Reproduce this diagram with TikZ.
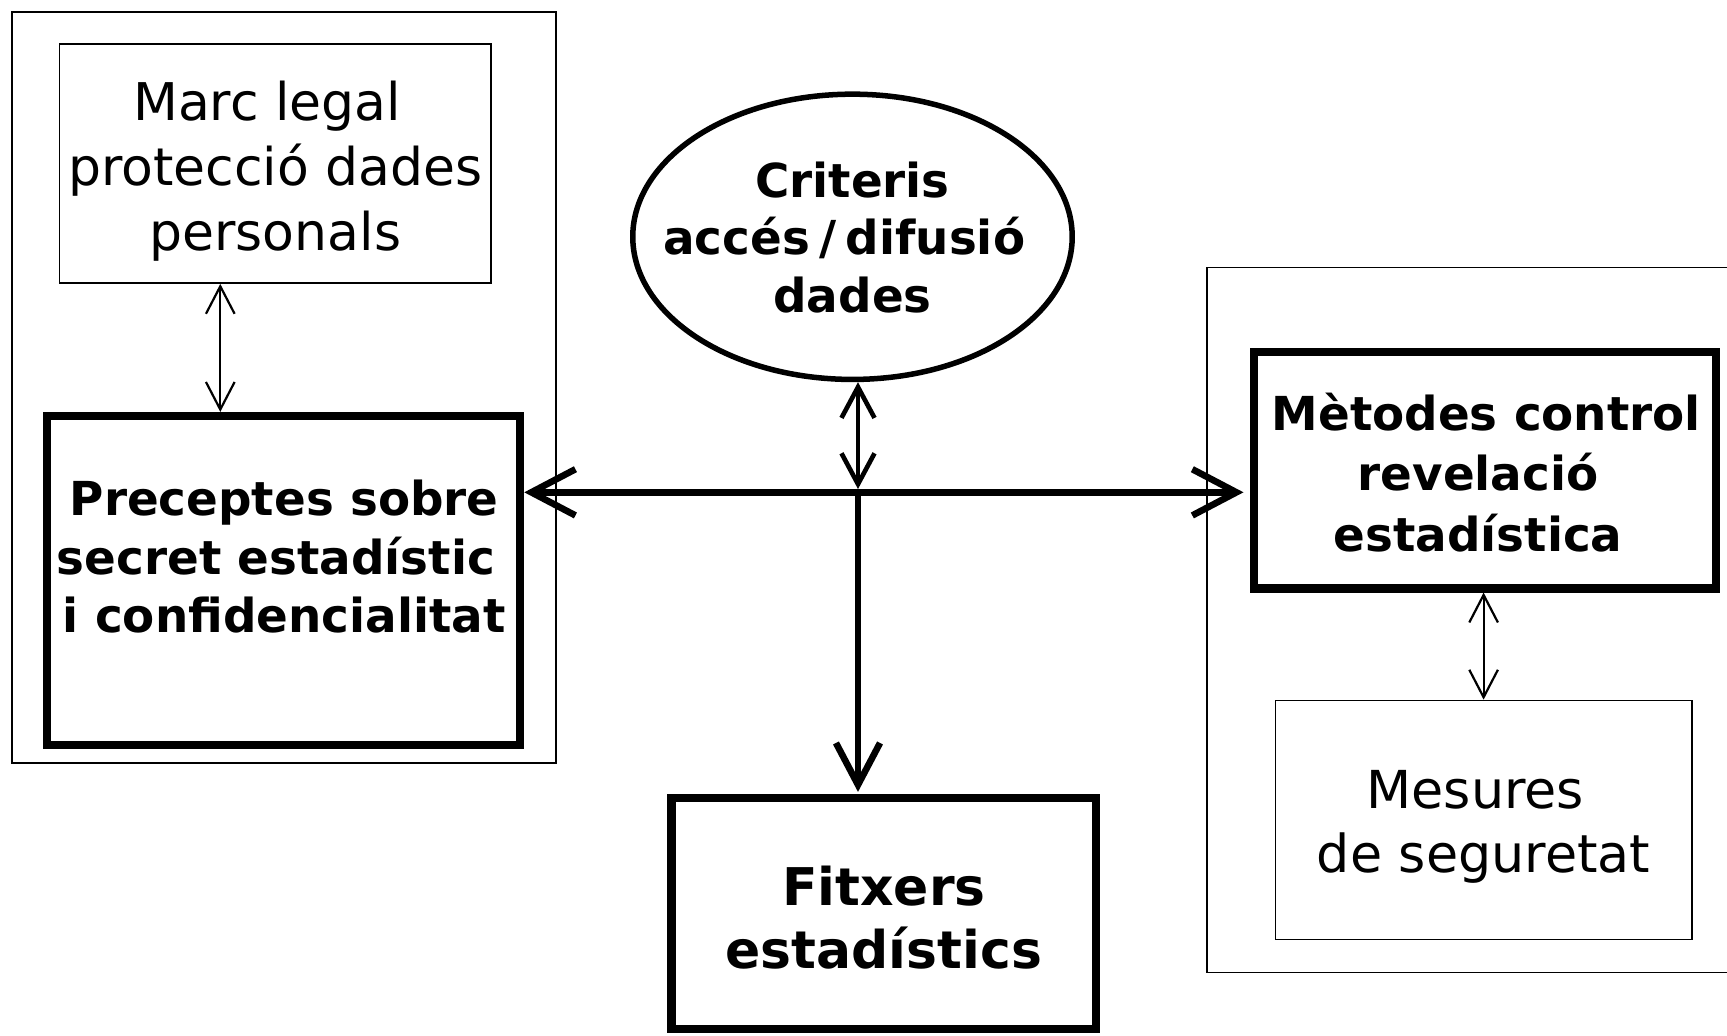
\documentclass[tikz,border=0pt]{standalone}
\usepackage{fontspec}
\setmainfont{DejaVu Sans}
\usetikzlibrary{arrows.meta,shapes.geometric,calc}
\begin{document}
\begin{tikzpicture}[x=0.5pt,y=-0.5pt,
  thinbox/.style={draw,line width=0.75pt,rectangle,inner sep=0pt},
  thickbox/.style={draw,line width=3.75pt,rectangle,inner sep=0pt},
  regtext/.style={align=center,inner sep=0pt,font=\fontsize{23.6pt}{29.5pt}\selectfont},
  boldtext/.style={align=center,inner sep=0pt,font=\fontsize{21.25pt}{26.5pt}\selectfont\bfseries},
  thinarrow/.style={line width=1pt,{Straight Barb[length=12.5pt,width=13pt]}-{Straight Barb[length=12.5pt,width=13pt]}},
  midarrow/.style={line width=2.1pt,{Straight Barb[length=14pt,width=15pt]}-{Straight Barb[length=14pt,width=15pt]}},
  bigline/.style={line width=3pt}
]
\useasboundingbox (0,0) rectangle (1568,940);
\fill[white] (0,0) rectangle (1568,940);
\clip (0,0) rectangle (1568,940);

% outer group boxes
\node[thinbox,minimum width=247pt,minimum height=341pt] (leftgrp) at (258,352) {};
\node[thinbox,minimum width=252pt,minimum height=320pt] (rightgrp) at (1348,563) {};

% boxes
\node[thinbox,minimum width=196pt,minimum height=108.5pt] (marc) at (250,148.5) {};
\node[regtext] (marct) at (250,155.5) {Marc legal\kern.32em\\protecció dades\\personals};

\node[thickbox,minimum width=214.75pt,minimum height=149.25pt] (prec) at (257.5,527) {};
\node[boldtext] (prect) at (258,505.5) {Preceptes sobre\\secret estadístic\kern.35em\\i confidencialitat};

\node[draw,ellipse,line width=2.5pt,minimum width=199.5pt,minimum height=129.5pt,inner sep=0pt] (crit) at (774,215) {};
\node[boldtext,font=\fontsize{21.25pt}{26pt}\selectfont\bfseries] (critt) at (774,215.5) {Criteris\\accés\kern.2em/\kern.2em difusió\kern.35em\\dades};

\node[thickbox,minimum width=209.75pt,minimum height=107.25pt] (met) at (1348.5,427) {};
\node[boldtext,font=\fontsize{21.25pt}{27.5pt}\selectfont\bfseries] (mett) at (1349.5,429) {Mètodes control\\revelació\kern.35em\\estadística\kern.35em};

\node[thinbox,minimum width=189pt,minimum height=108.5pt] (mes) at (1347,744.5) {};
\node[regtext,font=\fontsize{23.75pt}{29pt}\selectfont] (mest) at (1347,751) {Mesures\kern.32em\\de seguretat};

\node[thickbox,minimum width=192.75pt,minimum height=104.75pt] (fit) at (802.5,829.5) {};
\node[boldtext,font=\fontsize{23.6pt}{28.5pt}\selectfont\bfseries] (fitt) at (802.5,833) {Fitxers\\estadístics};

% connectors
\coordinate (xa) at (200,0);
\coordinate (xb) at (1347,0);
\coordinate (J) at (779,447);
\coordinate (Jup) at (779,444);

\draw[thinarrow] (marc.south -| xa) -- (prec.north -| xa);
\draw[thinarrow] (met.south -| xb) -- (mes.north -| xb);
\draw[midarrow] (crit.south -| J) -- (Jup);
\draw[bigline,{Straight Barb[length=20pt,width=21pt]}-{Straight Barb[length=20pt,width=21pt]}] (prec.east |- J) -- ([xshift=-3pt]met.west |- J);
\draw[bigline,-{Straight Barb[length=19pt,width=20pt]}] (J) -- ([yshift=1pt]fit.north -| J);
\end{tikzpicture}
\end{document}
